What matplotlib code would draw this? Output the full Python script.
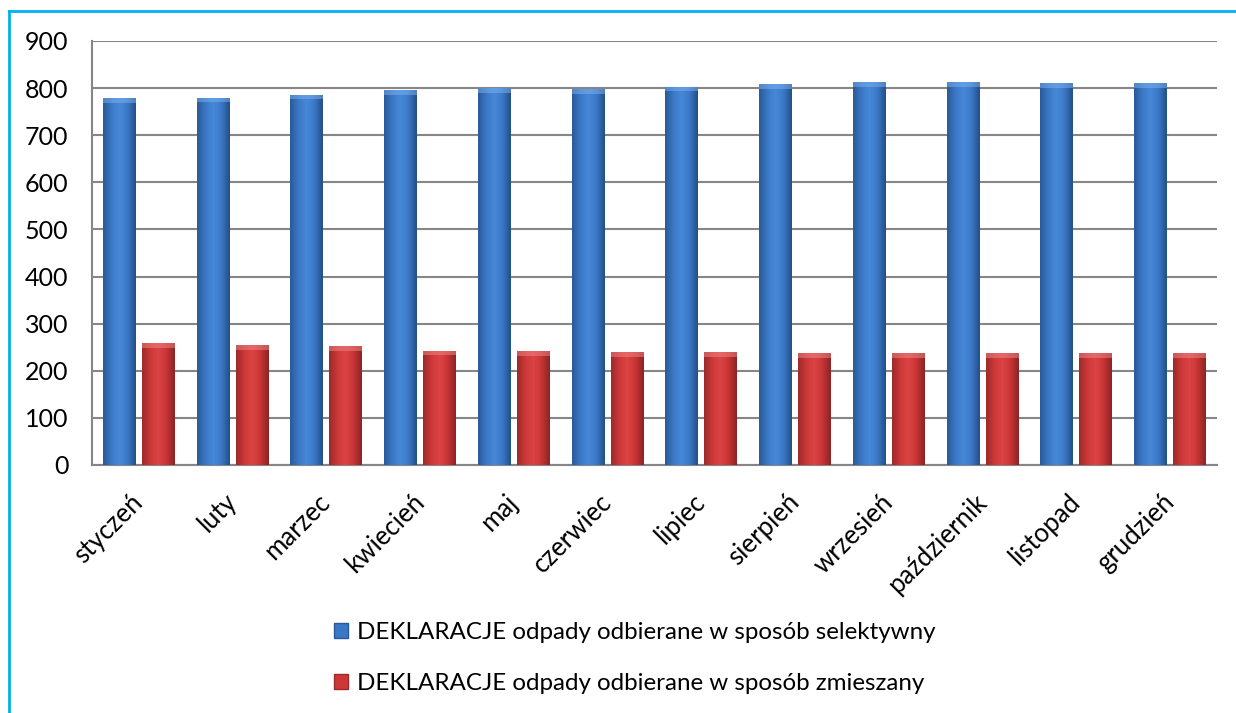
import numpy as np
import matplotlib
matplotlib.use("Agg")
import matplotlib.pyplot as plt
from matplotlib.patches import Rectangle
from matplotlib.lines import Line2D
from matplotlib.colors import LinearSegmentedColormap

months = ["styczeń", "luty", "marzec", "kwiecień", "maj", "czerwiec", "lipiec",
          "sierpień", "wrzesień", "październik", "listopad", "grudzień"]
selective = [779, 780, 786, 796, 800, 798, 803, 808, 812, 812, 810, 810]
mixed = [259, 255, 253, 243, 241, 240, 240, 238, 238, 238, 238, 238]
series_names = ["DEKLARACJE odpady odbierane w sposób selektywny",
                "DEKLARACJE odpady odbierane w sposób zmieszany"]
yticks = [0, 100, 200, 300, 400, 500, 600, 700, 800, 900]

plt.rcParams['font.family'] = ['Lato', 'DejaVu Sans']

W, H = 1236, 713
fig = plt.figure(figsize=(W / 100, H / 100), dpi=100)
ax = fig.add_axes([92 / W, 1 - 465 / H, (1217 - 92) / W, (465 - 41) / H])

x = np.arange(len(months))
bw = 0.352
off = 0.208

blue_cmap = LinearSegmentedColormap.from_list(
    "b", ["#2a5a98", "#3a78c6", "#4688d8", "#3a78c6", "#244f88"])
red_cmap = LinearSegmentedColormap.from_list(
    "r", ["#9c2a2a", "#cc3838", "#dc4444", "#c83434", "#8c2424"])
grad = np.linspace(0, 1, 64).reshape(1, -1)

def draw_series(xs, vals, base_color, cmap, top_color):
    bars = ax.bar(xs, vals, width=bw, color=base_color, zorder=3, linewidth=0)
    for b in bars:
        x0, w, h = b.get_x(), b.get_width(), b.get_height()
        im = ax.imshow(grad, extent=[x0, x0 + w, 0, h], cmap=cmap,
                       aspect='auto', zorder=4, interpolation='bicubic')
        im.set_clip_path(b)
        ax.add_patch(Rectangle((x0, h - 10), w, 10, facecolor=top_color,
                               edgecolor='none', alpha=0.5, zorder=5))
    return bars

draw_series(x - off, selective, "#3a78c6", blue_cmap, "#7fb2f0")
draw_series(x + off, mixed, "#cc3838", red_cmap, "#f08a8a")

ax.set_xlim(-0.5, len(months) - 0.5)
ax.set_ylim(0, 900)
ax.set_yticks(yticks)
ax.set_yticklabels([str(v) for v in yticks], fontsize=18)
ax.set_xticks(x)
ax.set_xticklabels(months, rotation=45, ha='right', va='center',
                   rotation_mode='anchor', fontsize=18.5)
ax.tick_params(axis='y', length=0, pad=17)
ax.tick_params(axis='x', length=0, pad=24)
ax.yaxis.grid(True, color='#868686', linewidth=1.5, zorder=0)
ax.set_axisbelow(True)
for s in ['top', 'right']:
    ax.spines[s].set_visible(False)
for s in ['left', 'bottom']:
    ax.spines[s].set_color('#868686')
    ax.spines[s].set_linewidth(1.5)

handles = [Rectangle((0, 0), 1, 1, facecolor="#3a78c6", edgecolor="#2a5a98"),
           Rectangle((0, 0), 1, 1, facecolor="#cc3838", edgecolor="#9c2a2a")]
fig.legend(handles, series_names, loc='center',
           bbox_to_anchor=(635 / W, 1 - 658 / H), frameon=False, fontsize=17.4,
           handlelength=0.55, handleheight=0.55, handletextpad=0.4,
           labelspacing=1.25)

fig.add_artist(Line2D([9 / W, 9 / W], [0, 1 - 11 / H], color='#00b0f0',
                      linewidth=2, transform=fig.transFigure))
fig.add_artist(Line2D([9 / W, 1], [1 - 11 / H, 1 - 11 / H], color='#00b0f0',
                      linewidth=2, transform=fig.transFigure))

fig.savefig("out.png", dpi=100)
